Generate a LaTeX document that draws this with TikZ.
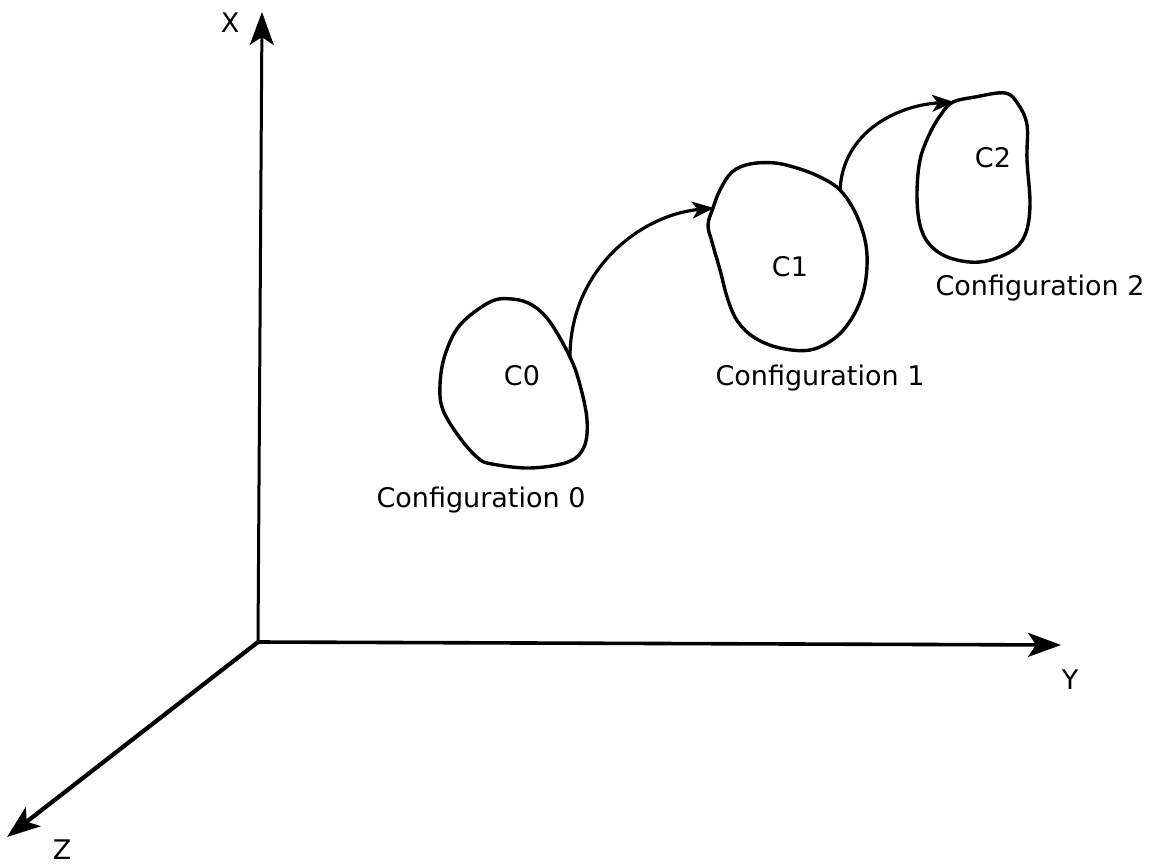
\documentclass[tikz,border=0pt]{standalone}
\usepackage{fontspec}
\setmainfont{DejaVu Sans}
\usetikzlibrary{arrows.meta}
\begin{document}
\begin{tikzpicture}[x=1pt,y=-1pt,
  axis/.style={line width=3pt,-{Stealth[length=33pt,width=24pt,inset=8pt]}},
  region/.style={line width=3.4pt,line join=round},
  move/.style={line width=3.2pt,-{Stealth[length=22pt,width=17pt,inset=6pt]}},
  lab/.style={font=\fontsize{27}{32}\selectfont,inner sep=0pt}]
\useasboundingbox (0,0) rectangle (1162,867);

% coordinate axes
\coordinate (O) at (258,642);
\coordinate (xend) at (262,12);
\coordinate (yend) at (1061,645);
\coordinate (zend) at (7,837);
\draw[axis] (O) -- (xend);
\draw[axis,line width=3.6pt] (O) -- (yend);
\draw[axis,line width=4.2pt] (O) -- (zend);
\node[lab] (xl) at (230,23) {X};
\node[lab] (yl) at (1070,680) {Y};
\node[lab] (zl) at (62,850) {Z};

% configuration regions
\draw[region] plot[smooth cycle,tension=0.6] coordinates {
  (490,302) (512,299) (532,305) (550,322) (570,357) (580,385)
  (587,420) (584,447) (568,462) (530,468) (492,464) (478,458)
  (460,438) (443,410) (440,385) (445,355) (460,325)};
\draw[region] plot[smooth cycle,tension=0.6] coordinates {
  (713,208) (720,190) (732,172) (750,164) (775,163) (800,169)
  (822,178) (840,190) (855,212) (865,240) (867,266) (863,293)
  (852,318) (835,338) (810,350) (780,348) (755,338) (738,322)
  (728,300) (720,270) (712,242) (708,225)};
\draw[region] plot[smooth cycle,tension=0.6] coordinates {
  (953,102) (975,97) (1005,93) (1018,104) (1027,125) (1027,160)
  (1030,205) (1025,235) (1010,252) (980,262) (950,258) (930,245)
  (920,225) (917,195) (920,160) (930,133) (942,113)};

\coordinate (c0out) at (570,357);
\coordinate (c1in) at (714,208);
\coordinate (c1out) at (840,190);
\coordinate (c2in) at (954,102);

\node[lab] (c0) at (522,376) {C0};
\node[lab] (c1) at (790,267) {C1};
\node[lab] (c2) at (993,158) {C2};

\node[lab] (cfg0) at (481,500) {Configuration 0};
\node[lab] (cfg1) at (820,378) {Configuration 1};
\node[lab] (cfg2) at (1040,288) {Configuration 2};

% transitions between configurations
\draw[move] (c0out) .. controls (570,270) and (640,215) .. (c1in);
\draw[move] (c1out) .. controls (843,130) and (900,105) .. (c2in);
\end{tikzpicture}
\end{document}
